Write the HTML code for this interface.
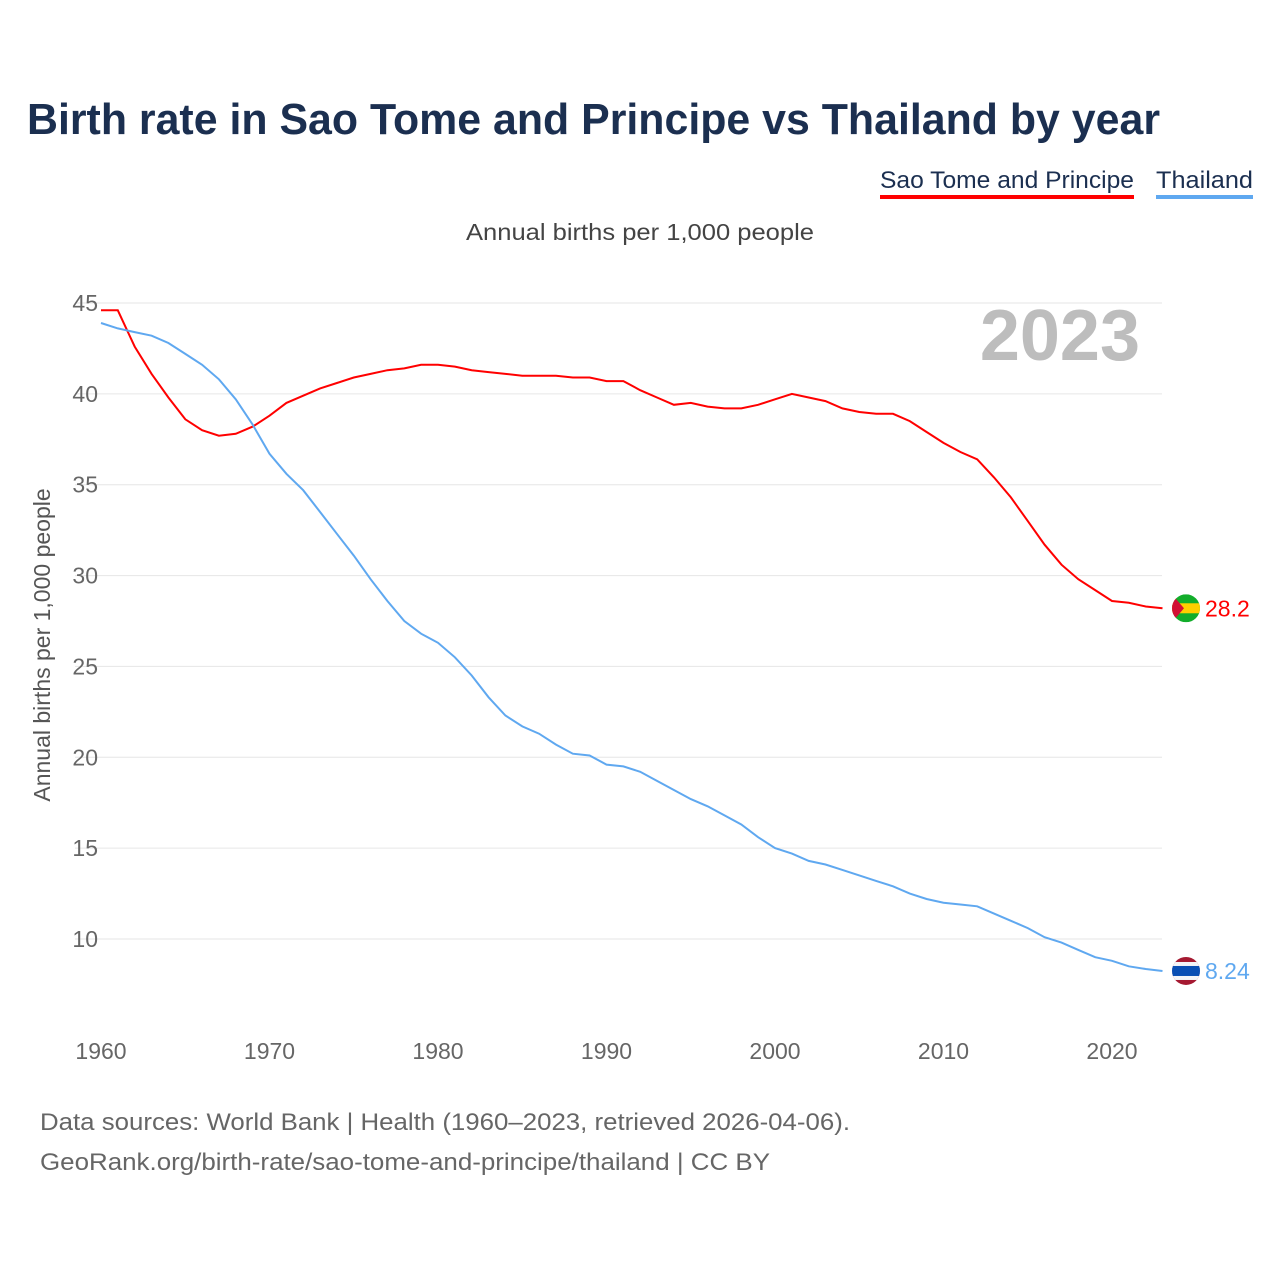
<!DOCTYPE html>
<html><head><meta charset="utf-8"><style>
body{margin:0;background:#fff;font-family:"Liberation Sans",sans-serif;}
svg text{font-family:"Liberation Sans",sans-serif;}
</style></head><body>
<svg id="c" width="1280" height="1280" xmlns="http://www.w3.org/2000/svg">
<defs><clipPath id="fc1"><circle cx="1186" cy="608" r="14"/></clipPath><clipPath id="fc2"><circle cx="1186" cy="971" r="14"/></clipPath></defs>
<text x="27" y="134" font-size="44" font-weight="bold" fill="#1b2f50" textLength="1133" lengthAdjust="spacingAndGlyphs">Birth rate in Sao Tome and Principe vs Thailand by year</text>
<text x="880" y="188" font-size="24" fill="#1b2f50" textLength="254" lengthAdjust="spacingAndGlyphs">Sao Tome and Principe</text>
<rect x="880" y="195" width="254" height="4" fill="#ff0000"/>
<text x="1156" y="188" font-size="24" fill="#1b2f50" textLength="97" lengthAdjust="spacingAndGlyphs">Thailand</text>
<rect x="1156" y="195" width="97" height="4" fill="#5fa8f0"/>
<text x="466" y="240" font-size="23" fill="#444" textLength="348" lengthAdjust="spacingAndGlyphs">Annual births per 1,000 people</text>
<text x="1140" y="360" font-size="72" font-weight="bold" fill="#bdbdbd" text-anchor="end">2023</text>
<text transform="translate(50,645) rotate(-90)" font-size="23" fill="#555" text-anchor="middle">Annual births per 1,000 people</text>
<g id="grid"></g><g id="lines"></g>
<text x="40" y="1130" font-size="24" fill="#666" textLength="810" lengthAdjust="spacingAndGlyphs">Data sources: World Bank | Health (1960–2023, retrieved 2026-04-06).</text>
<text x="40" y="1170" font-size="24" fill="#666" textLength="730" lengthAdjust="spacingAndGlyphs">GeoRank.org/birth-rate/sao-tome-and-principe/thailand | CC BY</text>
</svg>
<script>
const years=[];for(let y=1960;y<=2023;y++)years.push(y);
const saoTome=[44.6,44.6,42.6,41.1,39.8,38.6,38.0,37.7,37.8,38.2,38.8,39.5,39.9,40.3,40.6,40.9,41.1,41.3,41.4,41.6,41.6,41.5,41.3,41.2,41.1,41.0,41.0,41.0,40.9,40.9,40.7,40.7,40.2,39.8,39.4,39.5,39.3,39.2,39.2,39.4,39.7,40.0,39.8,39.6,39.2,39.0,38.9,38.9,38.5,37.9,37.3,36.8,36.4,35.4,34.3,33.0,31.7,30.6,29.8,29.2,28.6,28.5,28.3,28.2];
const thailand=[43.9,43.6,43.4,43.2,42.8,42.2,41.6,40.8,39.7,38.3,36.7,35.6,34.7,33.5,32.3,31.1,29.8,28.6,27.5,26.8,26.3,25.5,24.5,23.3,22.3,21.7,21.3,20.7,20.2,20.1,19.6,19.5,19.2,18.7,18.2,17.7,17.3,16.8,16.3,15.6,15.0,14.7,14.3,14.1,13.8,13.5,13.2,12.9,12.5,12.2,12.0,11.9,11.8,11.4,11.0,10.6,10.1,9.8,9.4,9.0,8.8,8.5,8.35,8.24];
const yTicks=[10,15,20,25,30,35,40,45];
const xTicks=[1960,1970,1980,1990,2000,2010,2020];
const NS="http://www.w3.org/2000/svg";
const X=y=>101+(y-1960)*(1112-101)/60;
const Y=v=>939-(v-10)*(939-303)/35;
const grid=document.getElementById('grid'),lines=document.getElementById('lines');
function mk(tag,a,p){const e=document.createElementNS(NS,tag);for(const k in a)e.setAttribute(k,a[k]);p.appendChild(e);return e;}
yTicks.forEach(t=>{
 const l=mk('line',{x1:75,x2:1162,y1:Y(t),y2:Y(t),stroke:'#e6e6e6','stroke-width':1},grid);
 
 
 const tx=mk('text',{x:98,y:Y(t)+8,'font-size':23,fill:'#666','text-anchor':'end'},grid);tx.textContent=t;
 
 
});
xTicks.forEach(t=>{
 const tx=mk('text',{x:X(t),y:1059,'font-size':23,fill:'#666','text-anchor':'middle'},grid);tx.textContent=t;
 
 
});
function series(vals,color,name,label,flag){
 const d=vals.map((v,i)=>(i?'L':'M')+X(years[i]).toFixed(1)+' '+Y(v).toFixed(1)).join(' ');
 const p=mk('path',{d:d,fill:'none',stroke:color,'stroke-width':2},lines);
 
 
 const last=vals[vals.length-1];
 const cy=Y(last);
 const g=mk('g',{'clip-path':'url(#'+flag+')'},lines);
 
 
 if(name==='sao-tome'){
  mk('rect',{x:1172,y:cy-14,width:28,height:28,fill:'#12ad2b'},g);
  mk('rect',{x:1172,y:cy-5,width:28,height:10,fill:'#ffce00'},g);
  mk('polygon',{points:`1172,${cy-14} 1184,${cy} 1172,${cy+14}`,fill:'#d21034'},g);
 } else {
  mk('rect',{x:1172,y:cy-14,width:28,height:28,fill:'#a51931'},g);
  mk('rect',{x:1172,y:cy-9,width:28,height:18,fill:'#f4f5f8'},g);
  mk('rect',{x:1172,y:cy-5,width:28,height:10,fill:'#0a4fb4'},g);
 }
 const t=mk('text',{x:1205,y:cy+8,'font-size':23,fill:color},lines);t.textContent=label;
 
 
}
document.querySelector('#fc1 circle').setAttribute('cy',Y(saoTome[saoTome.length-1]));
document.querySelector('#fc2 circle').setAttribute('cy',Y(thailand[thailand.length-1]));
series(saoTome,'#ff0000','sao-tome','28.2','fc1');
series(thailand,'#5fa8f0','thailand','8.24','fc2');
</script>
</body></html>
